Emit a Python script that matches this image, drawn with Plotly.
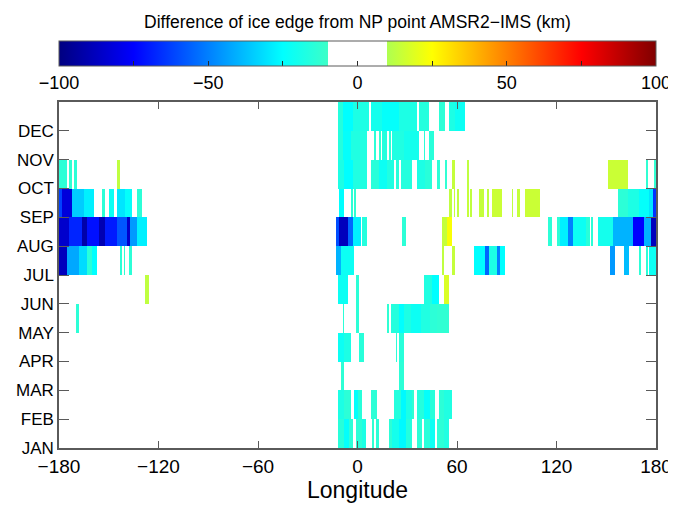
import numpy as np
import plotly.graph_objects as go

# Month labels (tick at the start of each month)
months = ["JAN", "FEB", "MAR", "APR", "MAY", "JUN", "JUL", "AUG", "SEP", "OCT", "NOV", "DEC"]
lon_ticks = [-180, -120, -60, 0, 60, 120, 180]
lon_labels = ["\u2212180", "\u2212120", "\u221260", "0", "60", "120", "180"]
cbar_ticks = [-100, -75, -50, -25, 0, 25, 50, 75, 100]
cbar_labels = ["\u2212100", "", "\u221250", "", "0", "", "50", "", "100"]

# Run-length segments: (lon_start, lon_end, difference km)
jan = [(-12, -8, -15), (-8, -5, -24), (-5, -3, -14), (-1, 3, -14), (3, 5, -18), (9, 10, -13),
       (11, 13, -14), (19, 21, -14), (21, 25, -20), (25, 29, -26), (29, 33, -16), (36, 39, -14),
       (40, 44, -15), (44, 47, -22), (48, 52, -14), (52, 55, -17)]
feb = [(-12, -8, -18), (-8, -4, -14), (-2, 0, -24), (0, 3, -15), (8, 12, -14), (22, 26, -16),
       (26, 29, -26), (29, 33, -18), (33, 34, -13), (36, 40, -16), (40, 44, -24), (44, 47, -15),
       (49, 52, -14), (52, 57, -17)]
mar = [(-10, -9, -13), (-9, -8, -15), (25, 28, -14)]
apr = [(-12, -8, -22), (-8, -4, -18), (1, 4, -15), (23, 24, -14), (25, 28, -15)]
may = [(-170, -168, -14), (-9, -8, -14), (-1, 1, -14), (18, 19, -13), (20, 25, -16), (25, 28, -25),
       (28, 32, -18), (32, 38, -22), (38, 44, -17), (44, 48, -14), (48, 55, -13)]
jun = [(-128, -126, 13), (-12, -6, -22), (-1, 1, -14), (40, 45, -17), (45, 49, -25), (52, 55, 18)]
jul = [(-180, -175, -88), (-175, -168, -42), (-168, -163, -32), (-163, -160, -15), (-160, -157, -25),
       (-143, -142, -14), (-141, -140, -13), (-138, -136, -14),
       (-13, -10, -40), (-10, -2, -22), (51, 52, 13), (57, 59, 14),
       (70, 77, -25), (77, 79, -55), (79, 84, -18), (84, 86, -50), (86, 89, -25),
       (152, 155, -45), (161, 164, -38), (170, 171, -14), (174, 175, -14), (176, 180, -22)]
aug = [(-180, -174, -85), (-174, -166, -68), (-166, -163, -92), (-163, -156, -72), (-156, -152, -90),
       (-152, -145, -70), (-145, -139, -58), (-139, -137, -85), (-137, -133, -45), (-133, -127, -28),
       (-13, -11, -60), (-11, -6, -88), (-6, -3, -55), (-3, 2, -28), (3, 6, -16), (27, 29, -14),
       (51, 54, 14), (54, 57, 24),
       (115, 117, -14), (120, 122, -14), (122, 127, -28), (127, 130, -50), (130, 138, -22),
       (138, 140, -15), (141, 142, -14), (145, 154, -20), (154, 166, -40), (166, 173, -75),
       (173, 177, -40), (177, 180, -88)]
sep = [(-180, -178, -62), (-178, -172, -82), (-172, -165, -35), (-165, -159, -28), (-154, -152, -14),
       (-150, -147, -22), (-145, -140, -30), (-140, -136, -24), (-133, -130, -14),
       (-11, -8, -25), (-4, -3, -14), (-2, -1, -13),
       (55, 57, 13), (58, 59, 14), (60, 61, 13), (66, 67, 14), (68, 69, 13), (73, 76, 14), (78, 79, 13),
       (81, 87, 15), (93, 94, 13), (96, 98, 14), (101, 110, 15),
       (157, 163, -14), (163, 170, -18), (170, 176, -24), (176, 178, -30), (178, 180, -65)]
oct_ = [(-180, -175, -14), (-174, -172, -13), (-171, -169, -14), (-145, -143, 13),
        (-12, -8, -18), (-8, -3, -25), (-3, 6, -17), (8, 13, -15), (13, 18, -22), (18, 22, -17),
        (23, 25, -15), (26, 33, -16), (36, 41, -18), (41, 45, -15), (48, 50, -14), (53, 54, -13),
        (57, 59, 14), (66, 67, 13), (151, 163, 15), (174, 175, -13), (179, 180, -13)]
nov = [(-12, -9, -16), (-9, -4, -24), (-4, 6, -17), (10, 11, -14), (13, 14, -13), (15, 18, -16),
       (19, 20, -14), (21, 28, -17), (28, 37, -20), (40, 41, -14), (43, 46, -15)]
dec = [(-12, -9, -16), (-9, -3, -25), (-3, 7, -18), (8, 15, -20), (15, 25, -24), (25, 36, -18),
       (37, 43, -16), (49, 53, -14), (55, 59, -18), (59, 65, -22)]

segments = [jan, feb, mar, apr, may, jun, jul, aug, sep, oct_, nov, dec]

lon_centers = np.arange(-179.5, 180.0, 1.0)
month_centers = np.arange(0.5, 12.0, 1.0)
z = np.full((12, lon_centers.size), np.nan)
for m, segs in enumerate(segments):
    for a, b, v in segs:
        i0 = int(np.floor(a + 180))
        i1 = int(np.ceil(b + 180))
        z[m, i0:i1] = v

jet_white = [
    [0.0, "rgb(0,0,128)"], [0.125, "rgb(0,0,255)"], [0.375, "rgb(0,255,255)"],
    [0.45, "rgb(60,255,200)"], [0.45, "rgb(255,255,255)"], [0.55, "rgb(255,255,255)"],
    [0.55, "rgb(175,255,80)"], [0.625, "rgb(255,255,0)"], [0.875, "rgb(255,0,0)"],
    [1.0, "rgb(128,0,0)"],
]

axcol = "rgb(90,90,90)"
font_family = "Liberation Sans, Arial, sans-serif"

fig = go.Figure(go.Heatmap(
    x=lon_centers, y=month_centers, z=z, zmin=-100, zmax=100,
    colorscale=jet_white, hoverongaps=False,
    colorbar=dict(
        orientation="h", x=0.5, xanchor="center", y=1.234, yanchor="top",
        len=1.0, lenmode="fraction", thickness=25, xpad=0, ypad=0,
        outlinecolor=axcol, outlinewidth=1,
        tickvals=cbar_ticks, ticktext=cbar_labels, ticks="inside", ticklen=5,
        tickcolor="rgb(40,40,40)", tickfont=dict(size=18, color="black", family=font_family),
        title=dict(text="Difference of ice edge from NP point AMSR2\u2212IMS (km)", side="top",
                   font=dict(size=17.5, color="black", family=font_family)),
    ),
))

# page body has an 8px margin: size/offset the figure so the plot lands where the reference has it
fig.update_layout(
    width=668, height=498,
    margin=dict(l=51, r=20, t=94, b=58, autoexpand=False),
    paper_bgcolor="white", plot_bgcolor="white",
    font=dict(family=font_family, color="black"),
    xaxis=dict(range=[-180, 180], tickvals=lon_ticks, ticktext=lon_labels, ticks="inside",
               ticklen=7, tickcolor=axcol, showline=True, linecolor=axcol, linewidth=1.5,
               mirror="ticks", showgrid=False, zeroline=False,
               tickfont=dict(size=19), title=dict(text="Longitude", font=dict(size=23), standoff=2)),
    yaxis=dict(range=[0, 12], tickvals=list(range(12)), ticktext=months, ticks="inside",
               ticklen=10, tickcolor=axcol, showline=True, linecolor=axcol, linewidth=1.5,
               mirror="ticks", showgrid=False, zeroline=False, tickfont=dict(size=17)),
)

fig.write_html("out.html")
